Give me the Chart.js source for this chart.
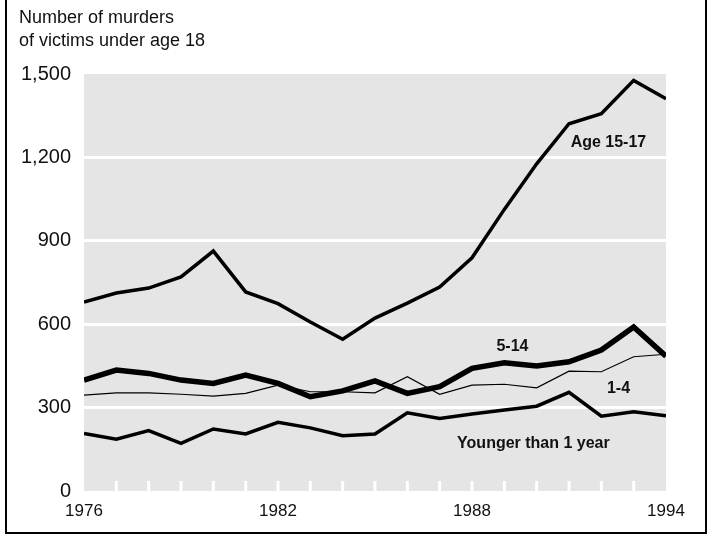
<!DOCTYPE html>
<html>
<head>
<meta charset="utf-8">
<script src="https://cdn.jsdelivr.net/npm/chart.js@4/dist/chart.umd.min.js"></script>
<style>
  body { margin: 0; background: #fff; }
  #wrap { position: relative; width: 710px; height: 536px; overflow: hidden; }
  #frame { position: absolute; left: 5px; top: -4px; width: 698px; height: 534px;
           border: 2px solid #000; box-sizing: content-box; }
  #title { position: absolute; left: 19px; top: 6px; font: 18px "Liberation Sans", Arial, sans-serif;
           line-height: 23px; color: #111; }
  canvas { position: absolute; left: 0; top: 0; }
</style>
</head>
<body>
<div id="wrap">
  <canvas id="murderChart" width="710" height="536"></canvas>
  <div id="frame"></div>
  <div id="title">Number of murders<br>of victims under age 18</div>
</div>
<script>
// Murders of victims under 18, by age group
const years = [1976, 1977, 1978, 1979, 1980, 1981, 1982, 1983, 1984, 1985,
               1986, 1987, 1988, 1989, 1990, 1991, 1992, 1993, 1994];
const age15to17 = [680, 712, 730, 770, 863, 716, 674, 608, 546, 622,
                   676, 734, 839, 1013, 1177, 1321, 1357, 1477, 1411];
const age5to14 = [399, 435, 423, 399, 387, 417, 387, 339, 360, 396,
                  351, 375, 441, 461, 450, 465, 507, 590, 485];
const age1to4 = [345, 353, 353, 348, 341, 351, 381, 357, 357, 353,
                 411, 348, 381, 384, 371, 431, 429, 483, 492];
const under1 = [207, 186, 217, 171, 223, 205, 247, 227, 199, 205,
                281, 261, 277, 291, 305, 355, 269, 285, 271];
const yearLabels = [1976, 1982, 1988, 1994];
const yTicks = [0, 300, 600, 900, 1200, 1500];

// Series names written on the chart, anchored in data units (year, count)
const seriesNames = ['Age 15-17', '5-14', '1-4', 'Younger than 1 year'];
const nameYears = [1992.22, 1989.25, 1992.53, 1989.9];
const nameValues = [1255, 518, 370, 169];

const FONT = '"Liberation Sans", Arial, sans-serif';

function toPoints(values) {
  return values.map((v, i) => ({ x: years[i], y: v }));
}

// Gray plot background, year marks and series names
const decorPlugin = {
  id: 'decor',
  beforeDraw(chart) {
    const a = chart.chartArea;
    const ctx = chart.ctx;
    ctx.save();
    ctx.fillStyle = '#e5e5e5';
    ctx.fillRect(a.left, a.top, a.right - a.left, a.bottom - a.top);
    ctx.restore();
  },
  beforeDatasetsDraw(chart) {
    const a = chart.chartArea;
    const ctx = chart.ctx;
    const xs = chart.scales.x;
    ctx.save();
    ctx.fillStyle = '#fff';
    years.slice(1, -1).forEach(yr => {
      const px = xs.getPixelForValue(yr);
      ctx.fillRect(px - 1.5, a.bottom - 10, 3, 10);
    });
    ctx.restore();
  },
  afterDatasetsDraw(chart) {
    const ctx = chart.ctx;
    const xs = chart.scales.x;
    const ys = chart.scales.y;
    ctx.save();
    ctx.fillStyle = '#111';
    ctx.font = 'bold 16px ' + FONT;
    ctx.textAlign = 'center';
    ctx.textBaseline = 'middle';
    seriesNames.forEach((name, i) => {
      ctx.fillText(name, xs.getPixelForValue(nameYears[i]), ys.getPixelForValue(nameValues[i]));
    });
    ctx.restore();
  }
};

function makeDataset(values, width) {
  return {
    data: toPoints(values),
    borderColor: '#000',
    borderWidth: width,
    borderJoinStyle: 'miter',
    pointRadius: 0,
    fill: false,
    tension: 0
  };
}

const ctx = document.getElementById('murderChart').getContext('2d');
const myChart = new Chart(ctx, {
  type: 'line',
  data: {
    datasets: [
      makeDataset(age1to4, 1.2),
      makeDataset(under1, 3.5),
      makeDataset(age15to17, 3.5),
      makeDataset(age5to14, 5.5)
    ]
  },
  options: {
    responsive: false,
    animation: false,
    layout: { padding: { top: 74, right: 44, bottom: 13, left: 0 } },
    plugins: { legend: { display: false }, tooltip: { enabled: false } },
    scales: {
      x: {
        type: 'linear',
        min: years[0],
        max: years[years.length - 1],
        border: { display: false },
        grid: { display: false, drawTicks: false },
        afterFit(scale) { scale.height = 32; },
        afterBuildTicks(scale) {
          scale.ticks = yearLabels.map(v => ({ value: v }));
        },
        ticks: {
          autoSkip: false,
          maxRotation: 0,
          padding: 10,
          color: '#111',
          font: { family: FONT, size: 17 },
          callback: v => String(v)
        }
      },
      y: {
        min: 0,
        max: 1500,
        afterFit(scale) { scale.width = 84; },
        afterBuildTicks(scale) {
          scale.ticks = yTicks.map(v => ({ value: v }));
        },
        border: { display: false },
        grid: {
          drawTicks: false,
          lineWidth: 3,
          color: c => (c.tick && c.tick.value > 0 && c.tick.value < 1500) ? '#fff' : 'rgba(0,0,0,0)'
        },
        ticks: {
          padding: 13,
          color: '#111',
          font: { family: FONT, size: 20 },
          callback: v => v.toLocaleString('en-US')
        }
      }
    }
  },
  plugins: [decorPlugin]
});
</script>
</body>
</html>
